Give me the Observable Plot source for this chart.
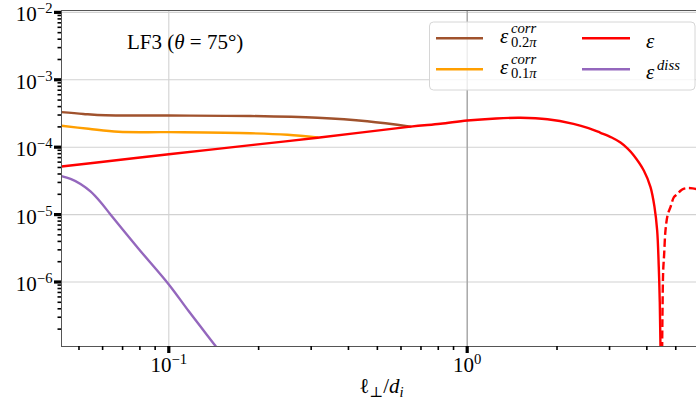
<!DOCTYPE html>
<html><head><meta charset="utf-8">
<script src="https://cdn.jsdelivr.net/npm/d3@7"></script>
<script src="https://cdn.jsdelivr.net/npm/@observablehq/plot@0.6"></script>
<style>
html,body{margin:0;padding:0;background:#fff;overflow:hidden}
#chart svg{display:block}
</style>
</head><body><div id="chart"></div>
<script>
// ---- data (x = l_perp/d_i, y = energy rate) ----
const corr02X = [0.04369, 0.0517, 0.0614, 0.0998, 0.1878, 0.315, 0.4622, 0.6457];
const corr02Y = [3.307e-4, 3.11e-4, 2.97e-4, 2.95e-4, 2.9e-4, 2.73e-4, 2.43e-4, 2.02e-4];

const corr01X = [0.04369, 0.0538, 0.0678, 0.0998, 0.1878, 0.25, 0.315];
const corr01Y = [2.077e-4, 1.875e-4, 1.69e-4, 1.67e-4, 1.61e-4, 1.53e-4, 1.40e-4];

const epsX = [0.04369, 0.0678, 0.1, 0.1953, 0.315, 0.6457, 0.8137, 1.0, 1.25, 1.509, 1.858, 2.271, 2.55, 2.797, 3.05, 3.264, 3.45, 3.617, 3.907, 4.115, 4.244, 4.332, 4.386, 4.42, 4.444, 4.46];
const epsY = [5.17e-5, 6.45e-5, 7.85e-5, 1.09e-4, 1.38e-4, 2.02e-4, 2.23e-4, 2.49e-4, 2.67e-4, 2.73e-4, 2.6e-4, 2.22e-4, 1.92e-4, 1.635e-4, 1.39e-4, 1.17e-4, 9.5e-5, 7.53e-5, 4.51e-5, 2.55e-5, 1.29e-5, 5.81e-6, 1.66e-6, 5e-7, 1.1e-7, 2e-8];

// negative part of epsilon, drawn as |eps| dashed
const epsNegX = [4.497, 4.503, 4.515, 4.538, 4.57, 4.619, 4.7, 4.8, 4.93, 5.068, 5.2, 5.307, 5.5, 5.7, 5.868];
const epsNegY = [3e-8, 1.2e-7, 4e-7, 1.48e-6, 2.5e-6, 5.81e-6, 1.0e-5, 1.29e-5, 1.81e-5, 2.03e-5, 2.28e-5, 2.41e-5, 2.48e-5, 2.45e-5, 2.38e-5];

const dissX = [0.04369, 0.04684, 0.05059, 0.05464, 0.05902, 0.06375, 0.0793, 0.1, 0.1167, 0.1426, 0.1549];
const dissY = [3.71e-5, 3.374e-5, 2.844e-5, 2.203e-5, 1.538e-5, 1.003e-5, 3.09e-6, 9.2e-7, 3.67e-7, 1.16e-7, 7.2e-8];

const xDomain = [0.04369, 5.868];
const yDomain = [1.104e-7, 1.066e-2];
const xMajor = [0.1, 1];
const yMajor = [1e-6, 1e-5, 1e-4, 1e-3, 1e-2];
const legendLabels = ["ε^corr_0.2π", "ε^corr_0.1π", "ε", "ε^diss"];

const xMinor = [];
for (const d of [0.01, 0.1, 1]) for (let k = 2; k <= 9; k++) { const v = k * d; if (v > xDomain[0] && v < xDomain[1]) xMinor.push(v); }
const yMinor = [];
for (const d of [1e-7, 1e-6, 1e-5, 1e-4, 1e-3]) for (let k = 2; k <= 9; k++) { const v = k * d; if (v > yDomain[0] && v < yDomain[1]) yMinor.push(v); }

const toRows = (X, Y) => X.map((x, i) => ({x, y: Y[i]}));
const corr02 = toRows(corr02X, corr02Y);
const corr01 = toRows(corr01X, corr01Y);
const eps = toRows(epsX, epsY);
const epsNeg = toRows(epsNegX, epsNegY);
const diss = toRows(dissX, dissY);

const C = {corr02: "#a0522d", corr01: "#ff9f00", eps: "#ff0000", diss: "#9467bd"};
const FONT = "'Liberation Serif', 'DejaVu Serif', serif";
const FS = 21, SUP = 14.7;
const CURVE = "catmull-rom";
const expLabel = d => { const e = Math.round(Math.log10(d)); return "10^" + (e < 0 ? "\u2212" + (-e) : String(e)); };

const plot = Plot.plot({
  width: 696, height: 401,
  marginLeft: 61, marginRight: 0, marginTop: 10, marginBottom: 55,
  style: {fontFamily: FONT, background: "#fff", color: "#000"},
  x: {type: "log", domain: xDomain},
  y: {type: "log", domain: yDomain},
  marks: [
    Plot.gridX(xMajor, {stroke: "#d2d2d2", strokeOpacity: 1, strokeWidth: 1.1}),
    Plot.gridY(yMajor, {stroke: "#d2d2d2", strokeOpacity: 1, strokeWidth: 1.1}),
    Plot.ruleX([1], {stroke: "#9a9a9a", strokeWidth: 1.1}),
    Plot.line(corr02, {x: "x", y: "y", stroke: C.corr02, strokeWidth: 2.4, curve: CURVE, clip: true}),
    Plot.line(corr01, {x: "x", y: "y", stroke: C.corr01, strokeWidth: 2.4, curve: CURVE, clip: true}),
    Plot.line(diss, {x: "x", y: "y", stroke: C.diss, strokeWidth: 2.4, curve: CURVE, clip: true}),
    Plot.line(epsNeg, {x: "x", y: "y", stroke: C.eps, strokeWidth: 2.4, curve: CURVE, clip: true, strokeDasharray: "8,3.5", strokeLinecap: "butt"}),
    Plot.line(eps, {x: "x", y: "y", stroke: C.eps, strokeWidth: 2.4, curve: CURVE, clip: true}),
    // spines
    Plot.ruleY([yDomain[1]], {stroke: "#555", strokeWidth: 1}),
    Plot.ruleY([yDomain[0]], {stroke: "#555", strokeWidth: 1}),
    Plot.ruleX([xDomain[0]], {stroke: "#555", strokeWidth: 1}),
    // ticks
    Plot.axisY({ticks: yMinor, tickSize: 3.5, strokeWidth: 1.6, tickFormat: () => "", label: null, stroke: "#000"}),
    Plot.axisY({ticks: yMajor, tickSize: 7, strokeWidth: 3.2, tickFormat: () => "", label: null, stroke: "#000"}),
    Plot.axisX({ticks: xMinor, tickSize: 4, strokeWidth: 1.6, tickFormat: () => "", label: null, stroke: "#000"}),
    Plot.axisX({ticks: xMajor, tickSize: 7, strokeWidth: 3.2, tickFormat: () => "", label: null, stroke: "#000"}),
    // tick labels
    Plot.text(yMajor, {y: d => d, frameAnchor: "left", text: expLabel, textAnchor: "end", lineAnchor: "bottom", dx: -9, dy: 9, fontSize: FS, fill: "#000"}),
    Plot.text(xMajor, {x: d => d, frameAnchor: "bottom", text: expLabel, textAnchor: "middle", lineAnchor: "bottom", dy: 25, fontSize: FS, fill: "#000"})
  ]
});
document.getElementById("chart").appendChild(plot);

const svg = d3.select(plot);
// superscripts on tick labels
svg.selectAll("text").each(function () {
  const t = d3.select(this);
  const m = (this.textContent || "").match(/^10\^(.+)$/);
  if (!m) return;
  t.selectAll("*").remove();
  t.text(null);
  t.append("tspan").text("10");
  t.append("tspan").attr("font-size", SUP).attr("dy", -8).text(m[1]);
});

const deco = svg.append("g").attr("font-family", FONT).attr("fill", "#000").attr("text-anchor", "start");
function txt(x, y, s, opts = {}) {
  const t = deco.append("text").attr("x", x).attr("y", y).attr("font-size", opts.size || FS).text(s);
  if (opts.italic) t.attr("font-style", "italic");
  if (opts.anchor) t.attr("text-anchor", opts.anchor);
  return t;
}

// title
{
  const t = deco.append("text").attr("x", 127).attr("y", 48.5).attr("font-size", FS);
  t.append("tspan").text("LF3 (");
  t.append("tspan").attr("font-style", "italic").text("θ");
  t.append("tspan").text(" = 75°)");
}
// x axis label
{
  const t = deco.append("text").attr("x", 381.5).attr("y", 393).attr("font-size", FS).attr("text-anchor", "middle");
  t.append("tspan").text("ℓ");
  t.append("tspan").attr("font-size", SUP).attr("dy", 4).text("⊥");
  t.append("tspan").attr("dy", -4).text("/");
  t.append("tspan").attr("font-style", "italic").text("d");
  t.append("tspan").attr("font-size", SUP).attr("font-style", "italic").attr("dy", 4).text("i");
}
// legend
{
  deco.append("rect").attr("x", 429.5).attr("y", 22).attr("width", 265.5).attr("height", 68)
    .attr("rx", 4).attr("fill", "#fff").attr("fill-opacity", 0.8).attr("stroke", "#d6d6d6").attr("stroke-width", 1);
  const rows = [38.3, 69.3];
  const items = [
    {col: 0, row: 0, color: C.corr02, label: legendLabels[0]},
    {col: 0, row: 1, color: C.corr01, label: legendLabels[1]},
    {col: 1, row: 0, color: C.eps, label: legendLabels[2]},
    {col: 1, row: 1, color: C.diss, label: legendLabels[3]}
  ];
  const lineX = [[436, 483], [582, 630]];
  const textX = [500, 646];
  for (const it of items) {
    const ly = rows[it.row];
    deco.append("line").attr("x1", lineX[it.col][0]).attr("x2", lineX[it.col][1])
      .attr("y1", ly).attr("y2", ly).attr("stroke", it.color).attr("stroke-width", 2.6);
    const parts = it.label.match(/^([^\^_]+)(?:\^([^_]+))?(?:_(.+))?$/);
    const base = parts[1], sup = parts[2], sub = parts[3];
    const tx = textX[it.col];
    if (sub) {
      txt(tx, ly + 5, base, {italic: true});
      txt(tx + 11, ly - 5, sup, {italic: true, size: SUP});
      const s = deco.append("text").attr("x", tx + 11).attr("y", ly + 8.5).attr("font-size", SUP);
      const mm = sub.match(/^([0-9.]+)(.*)$/);
      s.append("tspan").text(mm[1]);
      s.append("tspan").attr("font-style", "italic").text(mm[2]);
    } else if (sup) {
      txt(tx, ly + 10, base, {italic: true});
      txt(tx + 11, ly + 0.5, sup, {italic: true, size: SUP});
    } else {
      txt(tx, ly + 10, base, {italic: true});
    }
  }
}
</script>
</body></html>
